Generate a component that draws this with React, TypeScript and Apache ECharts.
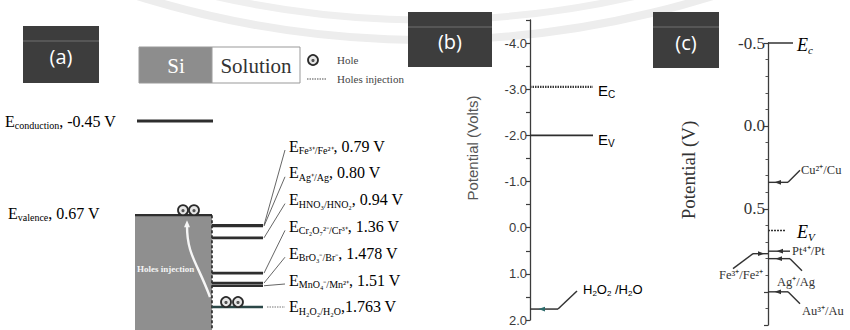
import React, { useEffect, useRef } from "react";
import * as echarts from "echarts";

// ---------- data ----------
// Panel (a): Si band edges and redox couples (V)
const siBandNames = ["conduction", "valence"];
const siBandValues = [-0.45, 0.67];
const coupleNamesA = ["Fe³⁺/Fe²⁺", "Ag⁺/Ag", "HNO₃/HNO₂", "Cr₂O₇²⁻/Cr³⁺", "BrO₃⁻/Br⁻", "MnO₄⁻/Mn²⁺", "H₂O₂/H₂O"];
const coupleValuesA = [0.79, 0.8, 0.94, 1.36, 1.478, 1.51, 1.763];

// Panel (b)
const bandNamesB = ["C", "V"];
const bandValuesB = [-3.05, -2.0];
const coupleNamesB = ["H₂O₂ /H₂O"];
const coupleValuesB = [1.763];
const axisRangeB = [-4.5, 2.0];
const axisTitleB = "Potential (Volts)";

// Panel (c)
const bandNamesC = ["c", "V"];
const bandValuesC = [-0.5, 0.63];
const coupleNamesC = ["Cu²⁺/Cu", "Pt⁴⁺/Pt", "Fe³⁺/Fe²⁺", "Ag⁺/Ag", "Au³⁺/Au"];
const coupleValuesC = [0.34, 0.755, 0.77, 0.8, 1.0];
const axisRangeC = [-0.5, 1.2];
const axisTitleC = "Potential (V)";

const panelTitles = ["(a)", "(b)", "(c)"];

// ---------- styles ----------
const SERIF = "Liberation Serif";
const SANS = "Liberation Sans";
const INK = "#333";

function fmtV(v: number) {
  const d = (String(v).split(".")[1] || "").length;
  return v.toFixed(Math.max(2, d));
}

const richA = {
  e: { fontFamily: SERIF, fontSize: 16, color: INK, lineHeight: 19 },
  s: { fontFamily: SERIF, fontSize: 10, color: INK, lineHeight: 12, verticalAlign: "bottom" },
  v: { fontFamily: SERIF, fontSize: 16, color: INK, lineHeight: 19 },
};
const richB = {
  e: { fontFamily: SANS, fontSize: 15, color: "#444", lineHeight: 18 },
  s: { fontFamily: SANS, fontSize: 10, color: "#444", lineHeight: 9, verticalAlign: "bottom" },
  a: { fontFamily: SANS, fontSize: 13, color: "#444", lineHeight: 16 },
  t: { fontFamily: SANS, fontSize: 8, color: "#444", lineHeight: 8, verticalAlign: "bottom" },
};
const richC = {
  e: { fontFamily: SERIF, fontSize: 18, fontStyle: "italic", color: INK, lineHeight: 20 },
  s: { fontFamily: SERIF, fontSize: 11, fontStyle: "italic", color: INK, lineHeight: 11, verticalAlign: "bottom" },
};

function hole(x: number, y: number) {
  return {
    type: "group",
    children: [
      { type: "circle", shape: { cx: x, cy: y, r: 5 }, style: { fill: "#e6e6e6", stroke: "#2a2a2a", lineWidth: 1.8 } },
      { type: "circle", shape: { cx: x, cy: y + 0.5, r: 1.6 }, style: { fill: "#555" } },
    ],
  };
}
function arrowLeft(x: number, y: number, color = "#333") {
  return { type: "polygon", shape: { points: [[x - 3.5, y], [x + 3, y - 2.4], [x + 3, y + 2.4]] }, style: { fill: color } };
}
function arrowRight(x: number, y: number, color = "#333") {
  return { type: "polygon", shape: { points: [[x + 3.5, y], [x - 3, y - 2.4], [x - 3, y + 2.4]] }, style: { fill: color } };
}
function plainText(x: number, y: number, text: string, size: number, family: string, fill: string, align = "left", weight = "normal") {
  return {
    type: "text",
    style: { x, y, text, fill, fontSize: size, fontFamily: family, fontWeight: weight, textAlign: align, textVerticalAlign: "middle", align, verticalAlign: "middle" },
  };
}
function rotatedText(x: number, y: number, text: string, size: number, family: string, fill: string) {
  return {
    type: "text",
    x,
    y,
    rotation: Math.PI / 2,
    style: { x: 0, y: 0, text, fill, fontSize: size, fontFamily: family, textAlign: "center", textVerticalAlign: "middle", align: "center", verticalAlign: "middle" },
  };
}

export default function App() {
  const ref = useRef<HTMLDivElement>(null);
  useEffect(() => {
    if (!ref.current) return;
    const chart = echarts.init(ref.current, undefined, { renderer: "svg" });

    const lastA = coupleValuesA.length - 1;

    const renderSi = (params: any, api: any) => {
      const i = params.dataIndex;
      const v = api.value(1) as number;
      const y = api.coord([0, v])[1];
      if (i === 0) {
        const xL = api.coord([137, v])[0];
        const xR = api.coord([213, v])[0];
        return {
          type: "group",
          children: [
            { type: "line", shape: { x1: xL, y1: y, x2: xR, y2: y }, style: { stroke: "#2e2e2e", lineWidth: 3 } },
            {
              type: "text",
              style: { x: 5, y: y, text: `{e|E}{s|${siBandNames[0]}}{v|, ${v.toFixed(2)} V}`, rich: richA, textVerticalAlign: "middle", textAlign: "left" },
            },
          ],
        };
      }
      const xB0 = api.coord([135, v])[0];
      const xB1 = api.coord([212, v])[0];
      const yBot = api.getHeight();
      const yW = api.coord([0, coupleValuesA[lastA]])[1];
      return {
        type: "group",
        children: [
          { type: "rect", shape: { x: xB0, y, width: xB1 - xB0, height: yBot - y }, style: { fill: "#8f8f8f" } },
          { type: "line", shape: { x1: xB0, y1: y, x2: xB1, y2: y }, style: { stroke: "#2e2e2e", lineWidth: 2.2 } },
          { type: "line", shape: { x1: xB1, y1: y, x2: xB1, y2: yBot }, style: { stroke: "#262626", lineWidth: 1.6, lineDash: [3, 2] } },
          {
            type: "bezierCurve",
            shape: { x1: xB1 - 2, y1: yW - 10, cpx1: 197, cpy1: yW - 45, cpx2: 187, cpy2: y + 40, x2: 187, y2: y + 10 },
            style: { stroke: "#f6f6f6", lineWidth: 2.4, fill: null },
          },
          { type: "polygon", shape: { points: [[187, y + 5], [184, y + 12], [190, y + 12]] }, style: { fill: "#f6f6f6" } },
          plainText(137, yW - 38, "Holes injection", 9, SERIF, "#f4f4f4", "left", "bold"),
          hole(183, y - 5),
          hole(194, y - 5),
          {
            type: "text",
            style: { x: 8, y: y - 2, text: `{e|E}{s|${siBandNames[1]}}{v|, ${v.toFixed(2)} V}`, rich: richA, textVerticalAlign: "middle", textAlign: "left" },
          },
        ],
      };
    };

    const renderCouplesA = (params: any, api: any) => {
      const i = params.dataIndex;
      const v = api.value(1) as number;
      const [x0, y] = api.coord([212, v]);
      const x1 = api.coord([263, v])[0];
      const last = i === lastA;
      const lx = 289;
      const ly = 146 + 26.8 * i;
      const children: any[] = [
        { type: "line", shape: { x1: x0, y1: y, x2: x1, y2: y }, style: { stroke: last ? "#2b4747" : "#2e2e2e", lineWidth: 2.6 } },
      ];
      if (last) {
        children.push({ type: "line", shape: { x1: x1 + 4, y1: y, x2: lx - 4, y2: y }, style: { stroke: "#777", lineWidth: 1, lineDash: [1.5, 1] } });
        children.push(hole(226, y - 5), hole(238, y - 5));
      } else {
        children.push({ type: "line", shape: { x1: x1 + 1, y1: y, x2: lx - 4, y2: ly + 4 }, style: { stroke: "#555", lineWidth: 0.9 } });
      }
      children.push({
        type: "text",
        style: {
          x: lx,
          y: ly,
          text: `{e|E}{s|${coupleNamesA[i]}}{v|${last ? "," : ", "}${fmtV(v)} V}`,
          rich: richA,
          textVerticalAlign: "middle",
          textAlign: "left",
        },
      });
      return { type: "group", children };
    };

    const renderBandsB = (params: any, api: any) => {
      const i = params.dataIndex;
      const v = api.value(1) as number;
      const [ax, y] = api.coord([0, v]);
      return {
        type: "group",
        children: [
          {
            type: "line",
            shape: { x1: ax, y1: y, x2: ax + 63, y2: y },
            style: i === 0 ? { stroke: "#3a3a3a", lineWidth: 2.2, lineDash: [1.5, 1] } : { stroke: "#2e2e2e", lineWidth: 1.6 },
          },
          { type: "text", style: { x: ax + 68, y: y + 4, text: `{e|E}{s|${bandNamesB[i]}}`, rich: richB, textVerticalAlign: "middle", textAlign: "left" } },
        ],
      };
    };

    const subRich = (s: string) => s.replace(/([^₂]+)|(₂)/g, (m, a) => (a ? `{a|${a}}` : `{t|2}`));

    const renderCouplesB = (params: any, api: any) => {
      const i = params.dataIndex;
      const v = api.value(1) as number;
      const [ax, y] = api.coord([0, v]);
      return {
        type: "group",
        children: [
          { type: "line", shape: { x1: ax, y1: y, x2: ax + 28, y2: y }, style: { stroke: "#333", lineWidth: 1.5 } },
          arrowLeft(ax + 12, y, "#2d6b6b"),
          { type: "line", shape: { x1: ax + 28, y1: y, x2: ax + 47, y2: y - 18 }, style: { stroke: "#333", lineWidth: 1.5 } },
          { type: "text", style: { x: ax + 53, y: y - 20, text: subRich(coupleNamesB[i]), rich: richB, textVerticalAlign: "middle", textAlign: "left" } },
        ],
      };
    };

    const renderBandsC = (params: any, api: any) => {
      const i = params.dataIndex;
      const v = api.value(1) as number;
      const [ax, y] = api.coord([0, v]);
      return {
        type: "group",
        children: [
          {
            type: "line",
            shape: { x1: ax, y1: y, x2: ax + (i === 0 ? 25 : 17), y2: y },
            style: i === 0 ? { stroke: "#333", lineWidth: 1.5 } : { stroke: "#333", lineWidth: 1.5, lineDash: [2, 1] },
          },
          { type: "text", style: { x: ax + 29, y: y + 2, text: `{e|E}{s|${bandNamesC[i]}}`, rich: richC, textVerticalAlign: "middle", textAlign: "left" } },
        ],
      };
    };

    const renderCouplesC = (params: any, api: any) => {
      const i = params.dataIndex;
      const v = api.value(1) as number;
      const [ax, y] = api.coord([0, v]);
      const name = coupleNamesC[i];
      const ln = (x1: number, y1: number, x2: number, y2: number, w = 1.4) => ({
        type: "line",
        shape: { x1, y1, x2, y2 },
        style: { stroke: "#333", lineWidth: w },
      });
      const txt = (x: number, yy: number, align = "left") => plainText(x, yy, name, 12.5, SERIF, INK, align);
      let children: any[] = [];
      if (i === 0) {
        children = [ln(ax, y, ax + 20, y), arrowLeft(ax + 10, y), ln(ax + 20, y, ax + 32, y - 12), txt(ax + 33, y - 12)];
      } else if (i === 1) {
        children = [ln(ax, y, ax + 22, y), arrowLeft(ax + 12, y), txt(ax + 24, y)];
      } else if (i === 2) {
        children = [ln(ax, y, ax - 15, y), arrowRight(ax - 7, y), ln(ax - 15, y, ax - 35, y + 15), txt(ax - 5, y + 21, "right")];
      } else if (i === 3) {
        children = [ln(ax, y, ax + 22, y), arrowLeft(ax + 11, y), ln(ax + 22, y, ax + 34, y + 12), txt(ax + 9, y + 23)];
      } else {
        children = [ln(ax, y, ax + 20, y), arrowLeft(ax + 10, y), ln(ax + 20, y, ax + 32, y + 12), txt(ax + 34, y + 19)];
      }
      return { type: "group", children };
    };

    const titleBox = (x: number, y: number, w: number, h: number, label: string) => ({
      type: "group",
      z: 10,
      children: [
        { type: "rect", shape: { x, y, width: w, height: h }, style: { fill: "#3d3d3d" } },
        { type: "rect", shape: { x, y: y + 14, width: w, height: 2 }, style: { fill: "#565656" } },
        plainText(x + w / 2, y + h / 2 + 2, label, 20, "Open Sans", "#ffffff", "center"),
      ],
    });

    const option: any = {
      animation: false,
      backgroundColor: "#ffffff",
      grid: [
        { left: 0, top: 121, width: 850, height: 186, outerBoundsMode: "none", containLabel: false },
        { left: 530, top: 20, width: 100, height: 300, outerBoundsMode: "none", containLabel: false },
        { left: 768, top: 43, width: 82, height: 282, outerBoundsMode: "none", containLabel: false },
      ],
      xAxis: [850, 100, 82].map((m, i) => ({ type: "value", gridIndex: i, min: 0, max: m, show: false })),
      yAxis: [
        { type: "value", gridIndex: 0, inverse: true, min: siBandValues[0], max: coupleValuesA[lastA], show: false },
        {
          type: "value",
          gridIndex: 1,
          inverse: true,
          min: axisRangeB[0],
          max: axisRangeB[1],
          interval: 0.5,
          axisLine: { show: true, lineStyle: { color: "#3c3c3c", width: 1.3 } },
          axisTick: { show: true, length: 4, lineStyle: { color: "#3c3c3c", width: 1.2 } },
          splitLine: { show: false },
          axisLabel: {
            margin: 3,
            fontFamily: SANS,
            fontSize: 13,
            color: "#3a3a3a",
            formatter: (val: number) => (Number.isInteger(val) ? val.toFixed(1) : ""),
          },
        },
        {
          type: "value",
          gridIndex: 2,
          inverse: true,
          min: axisRangeC[0],
          max: axisRangeC[1],
          interval: 0.5,
          axisLine: { show: true, lineStyle: { color: "#3c3c3c", width: 1.3 } },
          axisTick: { show: true, length: 4, lineStyle: { color: "#3c3c3c", width: 1.2 } },
          minorTick: { show: true, splitNumber: 5, length: 2.5, lineStyle: { color: "#555", width: 1 } },
          splitLine: { show: false },
          minorSplitLine: { show: false },
          axisLabel: {
            margin: 3,
            fontFamily: SERIF,
            fontSize: 17,
            color: "#333",
            formatter: (val: number) => (val < 1 ? val.toFixed(1) : ""),
          },
        },
      ],
      graphic: {
        elements: [
          { type: "circle", z: 0, silent: true, shape: { cx: 425, cy: -925, r: 965 }, style: { fill: null, stroke: "#ededed", lineWidth: 8 } },
          { type: "circle", z: 0, silent: true, shape: { cx: 425, cy: -925, r: 945 }, style: { fill: null, stroke: "#efefef", lineWidth: 7 } },
          titleBox(23, 26, 76, 57, panelTitles[0]),
          titleBox(408, 12, 84, 55, panelTitles[1]),
          titleBox(653, 12, 66, 56, panelTitles[2]),
          // axis titles
          rotatedText(472, 148, axisTitleB, 15, SANS, "#555555"),
          rotatedText(688, 170, axisTitleC, 19, SERIF, "#333333"),
          // Si / Solution box
          { type: "rect", shape: { x: 139, y: 47, width: 73, height: 36 }, style: { fill: "#8d8d8d", stroke: "#999", lineWidth: 1 } },
          { type: "rect", shape: { x: 212, y: 47, width: 88, height: 36 }, style: { fill: "#fff", stroke: "#999", lineWidth: 1 } },
          plainText(176, 66, "Si", 21, SERIF, "#ffffff", "center"),
          plainText(256, 66, "Solution", 21, SERIF, "#333333", "center"),
          // legend
          hole(313, 60),
          plainText(337, 60, "Hole", 11, SERIF, "#444444"),
          { type: "line", shape: { x1: 307, y1: 79, x2: 326, y2: 79 }, style: { stroke: "#888", lineWidth: 1.5, lineDash: [1.5, 1] } },
          plainText(337, 79, "Holes injection", 11, SERIF, "#444444"),
        ],
      },
      series: [
        { type: "custom", xAxisIndex: 0, yAxisIndex: 0, data: siBandValues.map((v, i) => [i, v]), renderItem: renderSi, z: 3 },
        { type: "custom", xAxisIndex: 0, yAxisIndex: 0, data: coupleValuesA.map((v, i) => [i, v]), renderItem: renderCouplesA, z: 4 },
        { type: "custom", xAxisIndex: 1, yAxisIndex: 1, data: bandValuesB.map((v, i) => [i, v]), renderItem: renderBandsB, z: 4 },
        { type: "custom", xAxisIndex: 1, yAxisIndex: 1, data: coupleValuesB.map((v, i) => [i, v]), renderItem: renderCouplesB, z: 4 },
        { type: "custom", xAxisIndex: 2, yAxisIndex: 2, data: bandValuesC.map((v, i) => [i, v]), renderItem: renderBandsC, z: 4 },
        { type: "custom", xAxisIndex: 2, yAxisIndex: 2, data: coupleValuesC.map((v, i) => [i, v]), renderItem: renderCouplesC, z: 4 },
      ],
    };
    chart.setOption(option);
    return () => chart.dispose();
  }, []);

  return <div ref={ref} style={{ width: 850, height: 330, position: "absolute", left: 0, top: 0 }} />;
}
